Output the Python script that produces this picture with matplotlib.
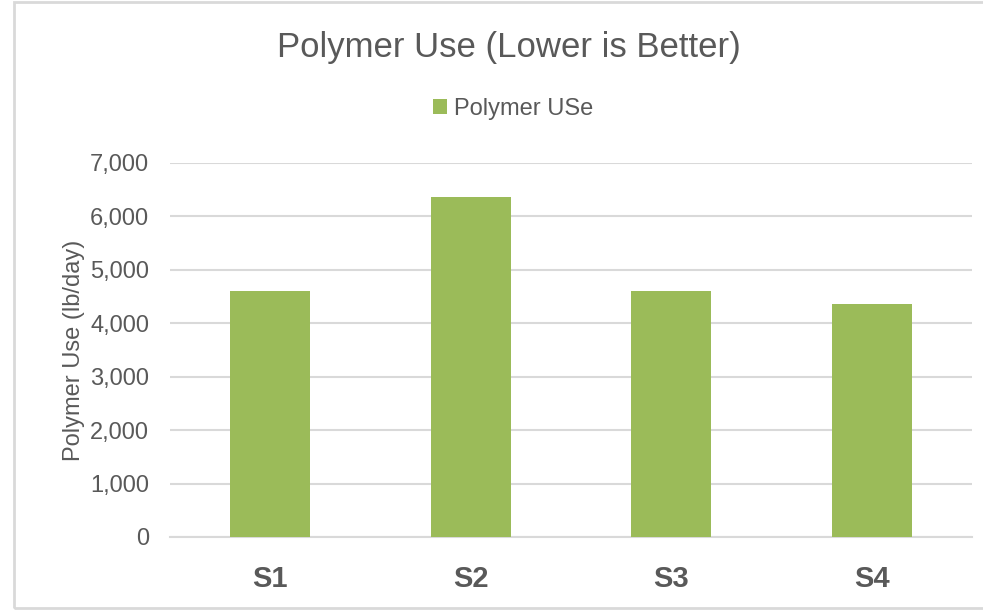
import matplotlib.pyplot as plt
from matplotlib.patches import Rectangle
from matplotlib.ticker import FuncFormatter

categories = ['S1', 'S2', 'S3', 'S4']
polymer_use = [4610, 6370, 4610, 4360]

plt.rcParams['font.family'] = ['Liberation Sans', 'DejaVu Sans']

fig = plt.figure(figsize=(9.83, 6.10), dpi=100)
ax = fig.add_axes([0.173, 0.1197, 0.816, 0.6131])

x = range(len(categories))
ax.bar(x, polymer_use, width=0.4, color='#9bbb59', label='Polymer USe', zorder=3)

ax.set_xlim(-0.5, len(categories) - 0.5)
ax.set_ylim(0, 7000)
ax.set_yticks(range(0, 7001, 1000))
ax.yaxis.set_major_formatter(FuncFormatter(lambda v, p: f'{int(v):,}'))
ax.set_xticks(list(x))
ax.set_xticklabels(categories, fontsize=21, fontweight='bold', color='#595959')
ax.tick_params(axis='y', labelsize=17, labelcolor='#595959', length=0, pad=15)
ax.tick_params(axis='x', length=0, pad=20)

ax.grid(axis='y', color='#d9d9d9', linewidth=1.5, zorder=0)
for side in ['top', 'right', 'left']:
    ax.spines[side].set_visible(False)
ax.spines['bottom'].set_color('#d9d9d9')
ax.spines['bottom'].set_linewidth(1.5)

ax.set_ylabel('Polymer Use (lb/day)', fontsize=17, color='#595959', labelpad=4)

fig.text(0.518, 0.922, 'Polymer Use (Lower is Better)', ha='center', va='center',
         fontsize=25, color='#595959')
fig.legend(loc='center', bbox_to_anchor=(0.522, 0.821), frameon=False, fontsize=17,
           handlelength=0.6, handleheight=0.6, handletextpad=0.3, labelcolor='#595959')

# chart area border
fig.patches.append(Rectangle((14 / 983, 2 / 610), 1.2, 606 / 610, transform=fig.transFigure,
                             fill=False, edgecolor='#d9d9d9', linewidth=2))

fig.savefig('out.png', dpi=100)
